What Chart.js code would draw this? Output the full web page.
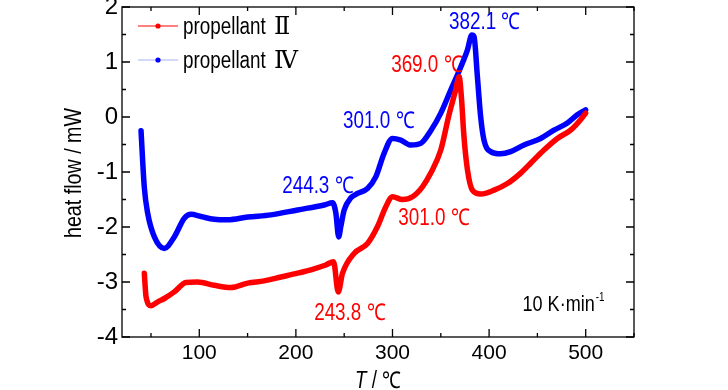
<!DOCTYPE html>
<html>
<head>
<meta charset="utf-8">
<script src="https://cdn.jsdelivr.net/npm/chart.js@4.4.1/dist/chart.umd.min.js"></script>
<style>
  html, body { margin: 0; padding: 0; background: #fff; }
  #wrap { width: 728px; height: 390px; }
</style>
</head>
<body>
<div id="wrap"><canvas id="dsc" width="728" height="390"></canvas></div>
<script>
const SANS  = '"Liberation Sans", Arial, sans-serif';
const SERIF = '"Liberation Serif", "DejaVu Serif", serif';
const RED  = '#ff0000';
const BLUE = '#0000ff';
const NARROW = 0.82; // the figure uses a condensed face, squeeze Liberation Sans

// DSC curves (T in degC, heat flow in mW)
const seriesNames = ['propellant Ⅱ', 'propellant Ⅳ'];

const redT  = [43.1, 44.9, 50.1, 57, 63.8, 74.1, 86.2, 98.3, 115.5, 132.8,
               150.1, 167.2, 184.5, 201.8, 218.9, 231, 239, 243.8, 248.3, 260.3,
               274.1, 284.5, 293.1, 300, 310.3, 320.7, 331, 339.6, 350, 358.5,
               365.4, 369, 371.3, 374, 377.6, 382.7, 391.3, 405.1, 418.9, 432.7,
               443, 456.8, 470.6, 484.4, 494.7, 499.9];
const redHF = [-2.84, -3.27, -3.43, -3.36, -3.30, -3.18, -3.01, -3.00, -3.06, -3.10,
               -3.02, -2.98, -2.91, -2.84, -2.76, -2.69, -2.63, -3.18, -2.84, -2.48,
               -2.30, -1.99, -1.63, -1.45, -1.50, -1.45, -1.27, -1.02, -0.60, 0.04,
               0.49, 0.73, 0.37, -0.36, -0.96, -1.33, -1.40, -1.33, -1.21, -1.02,
               -0.84, -0.60, -0.39, -0.24, -0.05, 0.07];

const blueT  = [39.7, 43.1, 46.6, 53.5, 63.8, 74.1, 84.5, 91.4, 101.8, 115.5,
                129.4, 150.1, 174.1, 201.8, 229.3, 238, 241.4, 244.3, 246.5, 250,
                256.9, 263.8, 274.1, 282.7, 291.3, 300, 308.6, 318.9, 329.3, 339.6,
                350, 360.3, 370.7, 377.6, 382.1, 384.4, 387.9, 391.3, 394.7, 401.6,
                412, 422.3, 436.1, 453.3, 467.1, 481, 491.3, 499.9];
const blueHF = [-0.25, -1.28, -1.75, -2.18, -2.39, -2.18, -1.84, -1.77, -1.81, -1.86,
                -1.87, -1.82, -1.78, -1.69, -1.60, -1.56, -1.75, -2.18, -1.99, -1.69,
                -1.47, -1.39, -1.30, -1.09, -0.66, -0.39, -0.42, -0.51, -0.48, -0.25,
                0.07, 0.49, 0.91, 1.22, 1.49, 1.46, 0.73, 0.0, -0.42, -0.63,
                -0.67, -0.63, -0.51, -0.39, -0.24, -0.11, 0.04, 0.13];

// axis ticks
const xTicks = [100, 200, 300, 400, 500];
const xMinor = [50, 150, 250, 350, 450, 550];
const yTicks = [-4, -3, -2, -1, 0, 1, 2];
const yMinor = [-3.5, -2.5, -1.5, -0.5, 0.5, 1.5];

// peak labels: text, colour, where the label centre sits (data units)
const peakText  = ['382.1 ℃', '369.0 ℃', '301.0 ℃', '244.3 ℃', '301.0 ℃', '243.8 ℃'];
const peakColor = [BLUE, RED, BLUE, BLUE, RED, RED];
const peakAtT   = [395.4, 335.5, 285.8, 222.7, 342.8, 255.8];
const peakAtHF  = [1.71, 0.93, -0.09, -1.27, -1.85, -3.58];

const toXY = (xs, ys) => xs.map((x, i) => ({ x, y: ys[i] }));

// draw text squeezed horizontally, returns drawn width
function narrowText(ctx, text, x, y, font, align) {
  ctx.save();
  ctx.font = font;
  const w = ctx.measureText(text).width * NARROW;
  let left = x;
  if (align === 'center') left = x - w / 2;
  ctx.translate(left, y);
  ctx.scale(NARROW, 1);
  ctx.textAlign = 'left';
  ctx.fillText(text, 0, 0);
  ctx.restore();
  return w;
}

// frame, inward ticks, legend, labels and axis titles
const decorPlugin = {
  id: 'decor',
  afterDraw(chart) {
    const { ctx, chartArea: a, scales: { x, y } } = chart;
    ctx.save();
    ctx.strokeStyle = '#000';
    ctx.lineWidth = 1.3;
    ctx.strokeRect(a.left, a.top, a.right - a.left, a.bottom - a.top);

    ctx.beginPath();
    const tickX = (v, len) => {
      const px = x.getPixelForValue(v);
      ctx.moveTo(px, a.bottom); ctx.lineTo(px, a.bottom - len);
      ctx.moveTo(px, a.top);    ctx.lineTo(px, a.top + len);
    };
    const tickY = (v, len) => {
      const py = y.getPixelForValue(v);
      ctx.moveTo(a.left, py);  ctx.lineTo(a.left + len, py);
      ctx.moveTo(a.right, py); ctx.lineTo(a.right - len, py);
    };
    xTicks.forEach((v) => tickX(v, 8));
    xMinor.forEach((v) => tickX(v, 4));
    yTicks.forEach((v) => tickY(v, 8));
    yMinor.forEach((v) => tickY(v, 4));
    ctx.stroke();

    // legend
    const legColors = [[RED, RED], ['#aab2f5', BLUE]];
    [26, 60].forEach((ly, i) => {
      const [lineC, dotC] = legColors[i];
      ctx.strokeStyle = lineC;
      ctx.lineWidth = 1.2;
      ctx.beginPath(); ctx.moveTo(138, ly); ctx.lineTo(178, ly); ctx.stroke();
      ctx.fillStyle = dotC;
      ctx.beginPath(); ctx.arc(158, ly, 2.6, 0, Math.PI * 2); ctx.fill();
      const parts = seriesNames[i].split(' ');
      ctx.fillStyle = '#000';
      ctx.textBaseline = 'alphabetic';
      narrowText(ctx, parts[0], 183, ly + 8, '23px ' + SANS);
      ctx.font = '24px ' + SERIF;
      ctx.textAlign = 'left';
      ctx.fillText(parts[1], 274, ly + 8);
    });

    // peak labels
    ctx.textBaseline = 'middle';
    peakText.forEach((t, i) => {
      ctx.fillStyle = peakColor[i];
      narrowText(ctx, t, x.getPixelForValue(peakAtT[i]), y.getPixelForValue(peakAtHF[i]), '23px ' + SANS, 'center');
    });

    // heating rate
    ctx.fillStyle = '#000';
    ctx.textBaseline = 'alphabetic';
    const rx = x.getPixelForValue(434.6), ry = y.getPixelForValue(-3.38) + 8;
    const rw = narrowText(ctx, '10 K·min', rx, ry, '22px ' + SANS);
    narrowText(ctx, '-1', rx + rw + 1, ry - 10, '12px ' + SANS);

    // x title with italic T
    const cx = (a.left + a.right) / 2;
    ctx.font = 'italic 23px ' + SANS;
    const tW = ctx.measureText('T').width * NARROW;
    ctx.font = '23px ' + SANS;
    const restW = ctx.measureText(' / ℃').width * NARROW;
    const x0 = cx - (tW + restW) / 2;
    narrowText(ctx, 'T', x0, 388, 'italic 23px ' + SANS);
    narrowText(ctx, ' / ℃', x0 + tW, 388, '23px ' + SANS);

    // y title, rotated
    ctx.save();
    ctx.translate(81, 173);
    ctx.rotate(-Math.PI / 2);
    narrowText(ctx, 'heat flow / mW', 0, 0, '24px ' + SANS, 'center');
    ctx.restore();
    ctx.restore();
  },
};

new Chart(document.getElementById('dsc'), {
  type: 'line',
  data: {
    datasets: [
      { label: seriesNames[0], data: toXY(redT, redHF), borderColor: RED, borderWidth: 5.5 },
      { label: seriesNames[1], data: toXY(blueT, blueHF), borderColor: BLUE, borderWidth: 5.5 },
    ],
  },
  options: {
    responsive: false,
    animation: false,
    parsing: false,
    layout: { padding: { top: 7, right: 94, left: 0, bottom: 0 } },
    elements: {
      point: { radius: 0 },
      line: { cubicInterpolationMode: 'monotone', borderJoinStyle: 'round', borderCapStyle: 'round', fill: false },
    },
    plugins: { legend: { display: false }, tooltip: { enabled: false } },
    scales: {
      x: {
        type: 'linear', min: 20, max: 550,
        afterBuildTicks: (s) => { s.ticks = xTicks.map((v) => ({ value: v })); },
        afterFit: (s) => { s.height = 53; s.paddingLeft = 0; s.paddingRight = 0; },
        grid: { display: false, drawTicks: false },
        border: { display: false },
        ticks: { color: '#000', padding: 4, font: { family: SANS, size: 21 } },
      },
      y: {
        type: 'linear', min: -4, max: 2,
        afterBuildTicks: (s) => { s.ticks = yTicks.map((v) => ({ value: v })); },
        afterFit: (s) => { s.width = 122; s.paddingTop = 0; s.paddingBottom = 0; },
        grid: { display: false, drawTicks: false },
        border: { display: false },
        ticks: { color: '#000', padding: 4, font: { family: SANS, size: 24 } },
      },
    },
  },
  plugins: [decorPlugin],
});
</script>
</body>
</html>
